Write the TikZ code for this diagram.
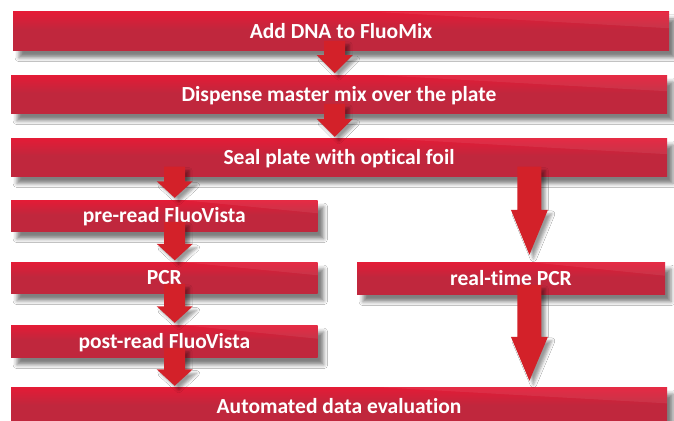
\documentclass[tikz,border=0pt]{standalone}
\usepackage{fontspec}
\newfontfamily\boxfont[Ligatures=NoCommon]{Carlito}
\usetikzlibrary{calc,shadows.blur}
\definecolor{boxtop}{RGB}{228,27,54}
\definecolor{boxbot}{RGB}{192,39,61}
\definecolor{arrowred}{RGB}{211,33,41}
\pgfdeclareverticalshading{boxshade}{100bp}{color(0bp)=(boxbot); color(25bp)=(boxbot); color(52bp)=(boxbot); color(75bp)=(boxtop); color(100bp)=(boxtop)}
\tikzset{
  stepbox/.style={rectangle, shading=boxshade, draw=none, inner sep=0pt,
    text=white, font=\boxfont\bfseries\fontsize{21.5}{24}\selectfont,
    text height=13.8pt, text depth=0pt,
    blur shadow={shadow xshift=6pt, shadow yshift=-7pt, shadow blur radius=4pt, shadow opacity=50}},
  flowarr/.style={fill=arrowred,
    blur shadow={shadow xshift=4pt, shadow yshift=-4pt, shadow blur radius=3pt, shadow opacity=40}},
  sheen/.style={fill=white, opacity=0.07}
}
% #1 x, #2 from node, #3 to node, #4 shaft half width, #5 head half width, #6 head length, #7 gap
\newcommand\flowarrow[7]{%
  \fill[flowarr] let \p1=(#2.south), \p2=(#3.north) in
   ({#1pt-#4pt},\y1+10pt) -- ({#1pt+#4pt},\y1+10pt) -- ({#1pt+#4pt},\y2+#7pt+#6pt)
   -- ({#1pt+#5pt},\y2+#7pt+#6pt) -- (#1pt,\y2+#7pt) -- ({#1pt-#5pt},\y2+#7pt+#6pt)
   -- ({#1pt-#4pt},\y2+#7pt+#6pt) -- cycle;}
\begin{document}
\begin{tikzpicture}[x=1pt,y=-1pt]
\fill[white] (0,0) rectangle (674,420);
\useasboundingbox (0,0) rectangle (674,420);
\node[stepbox, minimum width=656pt, minimum height=38.7pt] (b1) at (341,31.35) {Add DNA to FluoMix};
\node[stepbox, minimum width=656pt, minimum height=38.7pt] (b2) at (339,94.35) {Dispense master mix over the plate};
\node[stepbox, minimum width=656pt, minimum height=38.5pt] (b3) at (339,157.25) {Seal plate with optical foil};
\node[stepbox, minimum width=306.7pt, minimum height=31.7pt] (pre) at (164.35,215.85) {pre-read FluoVista};
\node[stepbox, minimum width=306.7pt, minimum height=31.7pt] (pcr) at (164.35,277.85) {PCR};
\node[stepbox, minimum width=308pt, minimum height=32.7pt] (rt) at (511,278.35) {real-time PCR};
\node[stepbox, minimum width=306.7pt, minimum height=32.7pt] (post) at (164.35,341.35) {post-read FluoVista};
\node[stepbox, minimum width=656pt, minimum height=39pt] (auto) at (339,406.5) {Automated data evaluation};
\foreach \n in {b1,b2,b3,pre,pcr,rt,post,auto}{
  \begin{scope}
    \clip (\n.south west) rectangle (\n.north east);
    \fill[sheen] ($(\n.north west)!0.55!(\n.north east)$) -- (\n.north east)
      -- ($(\n.north east)!0.42!(\n.south east)$) -- cycle;
  \end{scope}
}
\flowarrow{334.7}{b1}{b2}{10.5}{18}{18}{1.7}
\flowarrow{334.7}{b2}{b3}{10.5}{18}{18}{1}
\flowarrow{174.7}{b3}{pre}{10.5}{18}{16.5}{2}
\flowarrow{174.7}{pre}{pcr}{10.5}{18}{16.5}{1.5}
\flowarrow{174.7}{pcr}{post}{10.5}{18}{16.5}{2}
\flowarrow{174.7}{post}{auto}{10.5}{18}{16.5}{1}
\flowarrow{529.4}{b3}{rt}{12}{18.5}{45}{7}
\flowarrow{529.4}{rt}{auto}{12}{18.5}{44}{6}
\end{tikzpicture}
\end{document}
